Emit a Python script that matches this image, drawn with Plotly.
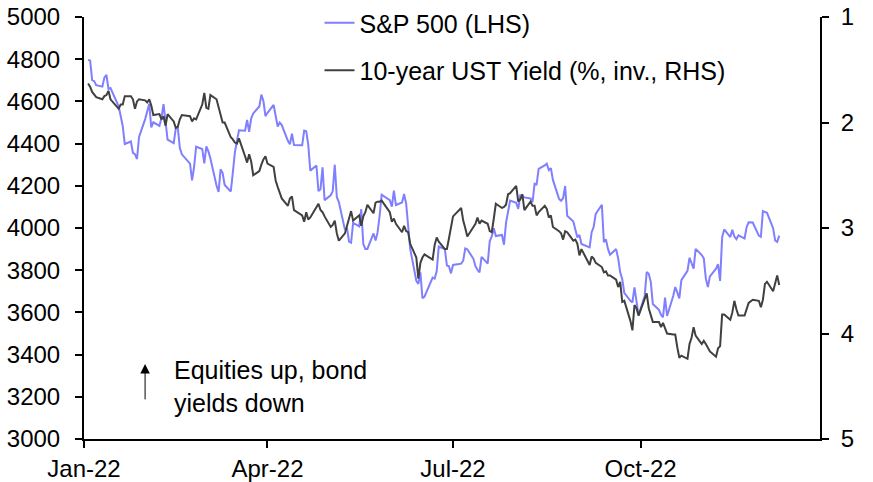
import pandas as pd
import plotly.graph_objs as go

# NYSE holidays 2022 inside the plotted window
holidays = ['2022-01-17', '2022-02-21', '2022-04-15', '2022-05-30',
            '2022-06-20', '2022-07-04', '2022-09-05', '2022-11-24']
dates = pd.bdate_range('2022-01-03', '2022-12-08', freq='C', holidays=holidays)

sp500 = [
    # Jan
    4797, 4794, 4701, 4696, 4677, 4670, 4713, 4726, 4659, 4663,
    4577, 4533, 4483, 4398, 4410, 4356, 4350, 4327, 4432, 4516,
    # Feb
    4547, 4589, 4477, 4501, 4484, 4522, 4587, 4504, 4419, 4402,
    4471, 4475, 4380, 4349, 4305, 4226, 4289, 4385, 4374,
    # Mar
    4306, 4387, 4363, 4329, 4201, 4171, 4278, 4260, 4204, 4173,
    4262, 4358, 4412, 4463, 4461, 4512, 4456, 4520, 4543, 4576,
    4632, 4602, 4530,
    # Apr
    4546, 4583, 4525, 4481, 4500, 4488, 4413, 4397, 4447, 4393,
    4392, 4462, 4459, 4394, 4272, 4296, 4175, 4184, 4288, 4132,
    # May
    4155, 4175, 4300, 4147, 4123, 3991, 4001, 3935, 3930, 4024,
    4008, 4089, 3924, 3901, 3901, 3974, 3941, 3979, 4058, 4158, 4132,
    # Jun
    4101, 4177, 4109, 4121, 4161, 4116, 4018, 3901, 3750, 3735,
    3790, 3667, 3675, 3765, 3760, 3796, 3912, 3900, 3822, 3819, 3785,
    # Jul
    3825, 3831, 3845, 3903, 3899, 3854, 3819, 3802, 3790, 3863,
    3831, 3937, 3960, 3999, 3962, 3967, 3921, 4024, 4072, 4130,
    # Aug
    4119, 4091, 4155, 4152, 4145, 4140, 4122, 4210, 4207, 4280,
    4297, 4305, 4274, 4284, 4228, 4138, 4129, 4141, 4199, 4058,
    4031, 3986, 3955,
    # Sep
    3967, 3924, 3908, 3980, 4006, 4067, 4110, 3933, 3946, 3901,
    3873, 3900, 3856, 3790, 3758, 3693, 3655, 3647, 3719, 3640, 3586,
    # Oct
    3678, 3791, 3783, 3745, 3640, 3612, 3589, 3577, 3670, 3583,
    3678, 3720, 3695, 3666, 3753, 3797, 3859, 3831, 3807, 3901, 3872,
    # Nov
    3856, 3760, 3720, 3771, 3807, 3828, 3749, 3956, 3993, 3957,
    3992, 3959, 3947, 3965, 3950, 4004, 4027, 4026, 3964, 3958, 4080,
    # Dec
    4077, 4072, 3999, 3941, 3934, 3964,
]

ust10y = [
    # Jan
    1.63, 1.66, 1.71, 1.73, 1.76, 1.78, 1.75, 1.74, 1.70, 1.78,
    1.87, 1.83, 1.83, 1.75, 1.75, 1.78, 1.87, 1.80, 1.78, 1.79,
    # Feb
    1.81, 1.78, 1.84, 1.93, 1.92, 1.97, 1.94, 2.03, 1.92, 1.99,
    2.05, 2.04, 1.97, 1.93, 1.94, 1.99, 1.96, 1.97, 1.83,
    # Mar
    1.72, 1.86, 1.87, 1.74, 1.78, 1.86, 1.95, 2.00, 2.00, 2.14,
    2.16, 2.19, 2.20, 2.15, 2.32, 2.38, 2.30, 2.37, 2.50, 2.46,
    2.40, 2.35, 2.32,
    # Apr
    2.39, 2.42, 2.55, 2.61, 2.66, 2.72, 2.79, 2.72, 2.70, 2.83,
    2.88, 2.94, 2.85, 2.92, 2.90, 2.81, 2.77, 2.83, 2.85, 2.89,
    # May
    2.99, 2.97, 2.93, 3.05, 3.12, 3.05, 2.99, 2.91, 2.84, 2.93,
    2.88, 2.98, 2.89, 2.85, 2.78, 2.86, 2.76, 2.75, 2.75, 2.74, 2.85,
    # Jun
    2.94, 2.91, 2.96, 3.04, 2.98, 3.03, 3.04, 3.15, 3.28, 3.48,
    3.33, 3.28, 3.25, 3.30, 3.16, 3.09, 3.13, 3.20, 3.20, 3.10, 2.98,
    # Jul
    2.89, 2.81, 2.93, 3.00, 3.08, 2.99, 2.96, 2.90, 2.96, 2.93,
    2.96, 3.03, 3.04, 2.91, 2.77, 2.81, 2.80, 2.78, 2.68, 2.67,
    # Aug
    2.60, 2.75, 2.73, 2.68, 2.83, 2.75, 2.79, 2.79, 2.88, 2.85,
    2.79, 2.82, 2.90, 2.88, 2.99, 3.03, 3.05, 3.11, 3.03, 3.04,
    3.12, 3.11, 3.15,
    # Sep
    3.26, 3.20, 3.35, 3.27, 3.29, 3.33, 3.37, 3.42, 3.41, 3.45,
    3.45, 3.49, 3.56, 3.51, 3.70, 3.69, 3.88, 3.97, 3.73, 3.76, 3.83,
    # Oct
    3.67, 3.62, 3.76, 3.83, 3.89, 3.89, 3.94, 3.90, 3.95, 4.00,
    4.01, 4.01, 4.13, 4.23, 4.21, 4.24, 4.10, 4.04, 3.94, 4.02, 4.10,
    # Nov
    4.07, 4.10, 4.14, 4.17, 4.22, 4.14, 4.12, 3.82, 3.82, 3.87,
    3.80, 3.69, 3.77, 3.83, 3.83, 3.76, 3.71, 3.68, 3.69, 3.75, 3.68,
    # Dec
    3.53, 3.51, 3.60, 3.53, 3.45, 3.54,
]

tick_dates = ['2022-01-01', '2022-04-01', '2022-07-01', '2022-10-01']
tick_text = ['Jan-22', 'Apr-22', 'Jul-22', 'Oct-22']

font = dict(family='Liberation Sans, Arial', size=25, color='black')
tick_font = dict(family='Liberation Sans, Arial', size=24, color='black')

fig = go.Figure()
fig.add_trace(go.Scatter(x=dates, y=sp500, mode='lines', name='S&P 500 (LHS)',
                         line=dict(color='#7f7fff', width=2), legendgroup='a'))
fig.add_trace(go.Scatter(x=dates, y=ust10y, mode='lines', name='10-year UST Yield (%, inv., RHS)',
                         line=dict(color='#404040', width=2), legendgroup='b', yaxis='y2'))

# arrow + note, bottom left
fig.add_annotation(x=0.083, y=0.178, xref='paper', yref='paper', text='',
                   showarrow=True, arrowhead=2, arrowsize=1.9, arrowwidth=1,
                   arrowcolor='black', ax=0, ay=37)
fig.add_annotation(x=0.12, y=0.124, xref='paper', yref='paper',
                   text='Equities up, bond<br>yields down', showarrow=False,
                   xanchor='left', yanchor='middle', align='left', font=font)

fig.update_layout(
    width=873, height=482,
    margin=dict(l=84, r=53, t=17, b=43, autoexpand=False),
    plot_bgcolor='white', paper_bgcolor='white',
    font=font,
    showlegend=True,
    legend=dict(xref='container', yref='container', x=0.366, y=1.0,
                xanchor='left', yanchor='top', bgcolor='rgba(0,0,0,0)',
                tracegroupgap=12, font=font),
    xaxis=dict(range=['2022-01-01', '2022-12-28'], tickvals=tick_dates, ticktext=tick_text,
               showgrid=False, zeroline=False, showline=True, linecolor='black', linewidth=2,
               ticks='outside', ticklen=7, tickwidth=2, tickcolor='black', automargin=False,
               tickfont=tick_font),
    yaxis=dict(range=[3000, 5000], dtick=200, showgrid=False, zeroline=False,
               showline=True, linecolor='black', linewidth=2, automargin=False,
               ticks='outside', ticklen=7, tickwidth=2, tickcolor='black', ticklabelstandoff=10,
               tickfont=tick_font),
    yaxis2=dict(range=[5, 1], dtick=1, overlaying='y', side='right', showgrid=False,
                zeroline=False, showline=True, linecolor='black', linewidth=2, automargin=False,
                ticks='outside', ticklen=7, tickwidth=2, tickcolor='black', ticklabelstandoff=7,
                tickfont=tick_font),
)

# drop the default page margin so the figure sits at the window's top-left
fig.write_html('out.html', config={'displayModeBar': False},
               post_script="document.body.style.margin='0';")
